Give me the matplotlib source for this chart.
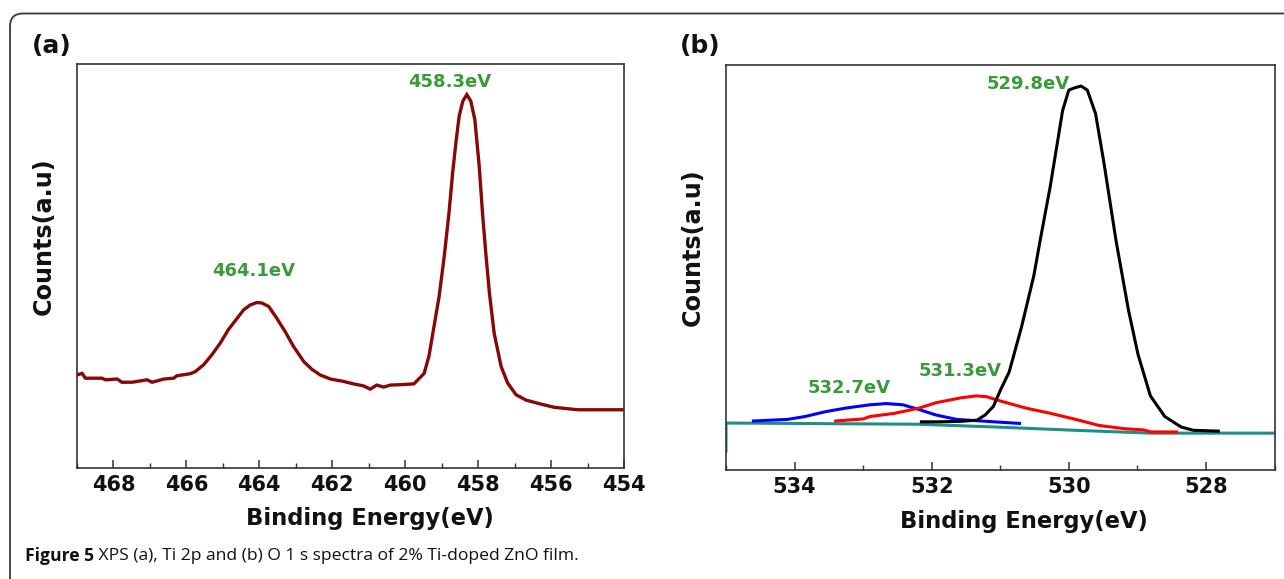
import matplotlib
matplotlib.use("Agg")
import matplotlib.pyplot as plt
from matplotlib.patches import FancyBboxPatch
from matplotlib.ticker import MultipleLocator

# ---------------- data ----------------
# Panel (a): Ti 2p spectrum (binding energy eV, counts a.u.)
ti_energy = [469.00, 468.86, 468.77, 468.31, 468.22, 467.90, 467.77, 467.49, 467.08, 466.94,
             466.62, 466.35, 466.26, 465.90, 465.76, 465.53, 465.30, 465.07, 464.85, 464.61,
             464.43, 464.25, 464.07, 463.93, 463.74, 463.52, 463.29, 463.06, 462.78, 462.56,
             462.33, 462.05, 461.69, 461.42, 461.14, 460.96, 460.78, 460.59, 460.41, 460.12,
             459.76, 459.48, 459.35, 459.21, 459.07, 458.93, 458.80, 458.70, 458.61, 458.52,
             458.42, 458.31, 458.20, 458.09, 457.97, 457.88, 457.79, 457.69, 457.56, 457.37,
             457.19, 456.96, 456.69, 456.28, 455.91, 455.27, 454.64, 454.00]
ti_counts = [23.0, 23.4, 22.2, 22.2, 21.8, 22.0, 21.2, 21.2, 21.8, 21.2,
             22.0, 22.2, 22.8, 23.3, 23.8, 25.5, 28.0, 30.9, 34.2, 37.0,
             39.1, 40.3, 40.9, 40.8, 39.9, 37.0, 33.7, 30.0, 26.3, 24.4,
             23.0, 22.0, 21.4, 20.8, 20.3, 19.5, 20.5, 20.0, 20.5, 20.6,
             20.8, 23.4, 27.6, 35.0, 42.4, 52.3, 63.0, 72.9, 80.4, 87.0,
             90.7, 92.3, 90.7, 86.1, 74.6, 63.0, 53.1, 43.2, 33.3, 25.1,
             21.0, 18.1, 16.8, 15.8, 15.0, 14.4, 14.4, 14.4]

# Panel (b): O 1s fitted components
o_main_energy = [532.15, 531.90, 531.60, 531.34, 531.22, 531.10, 530.99, 530.87, 530.69, 530.51,
                 530.42, 530.27, 530.09, 530.00, 529.91, 529.82, 529.73, 529.61, 529.49, 529.31,
                 529.13, 528.99, 528.81, 528.60, 528.36, 528.18, 527.82]
o_main_counts = [11.9, 11.9, 12.0, 12.3, 13.6, 15.7, 20.0, 24.2, 35.3, 48.0,
                 56.5, 70.1, 88.8, 93.8, 94.4, 94.8, 93.8, 88.0, 76.1, 56.5,
                 39.5, 28.5, 18.3, 13.2, 10.6, 9.8, 9.6]

o_mid_energy = [533.40, 533.00, 532.90, 532.54, 532.18, 531.94, 531.58, 531.35, 531.20, 530.99,
                530.63, 530.27, 529.90, 529.56, 529.19, 528.91, 528.80, 528.43]
o_mid_counts = [12.1, 12.6, 13.2, 14.0, 15.3, 16.6, 17.8, 18.3, 18.1, 17.0,
                15.3, 14.0, 12.5, 11.0, 10.2, 9.9, 9.4, 9.4]

o_high_energy = [534.60, 534.10, 533.85, 533.55, 533.25, 532.90, 532.66, 532.42, 532.18, 531.94,
                 531.64, 531.28, 530.72]
o_high_counts = [12.1, 12.5, 13.2, 14.4, 15.3, 16.1, 16.4, 16.1, 14.9, 13.6,
                 12.5, 12.1, 11.5]

o_bg_energy = [535.00, 535.00, 532.20, 531.05, 529.90, 528.80, 527.00]
o_bg_counts = [4.7, 11.6, 11.3, 10.6, 9.8, 9.1, 9.1]

ti_ticks = [468, 466, 464, 462, 460, 458, 456, 454]
o_ticks = [534, 532, 530, 528]

ti_peaks = [("458.3eV", 458.77, 95.4), ("464.1eV", 464.15, 48.8)]
o_peaks = [("529.8eV", 530.59, 95.2), ("531.3eV", 531.58, 24.5), ("532.7eV", 533.21, 20.3)]

caption_bold = "Figure 5"
caption_rest = " XPS (a), Ti 2p and (b) O 1 s spectra of 2% Ti-doped ZnO film."

# ---------------- figure ----------------
W, H = 1284, 579
fig = plt.figure(figsize=(W / 100, H / 100), dpi=100)
fig.patch.set_facecolor("white")

# rounded border
border = FancyBboxPatch((10, -40), 1320, 579 - 13.5 + 40,
                        boxstyle="round,pad=0,rounding_size=13",
                        transform=None, fill=False, edgecolor="#3a3a3a",
                        linewidth=1.3, clip_on=False)
fig.patches.append(border)

spine_col = "#333333"
green = "#3a9a3a"
lab_font = dict(family="DejaVu Sans", weight="bold")


def px_axes(l, r, t, b):
    return [l / W, (H - b) / H, (r - l) / W, (b - t) / H]


def style(ax, xlim, ticks):
    ax.set_xlim(*xlim)
    ax.set_ylim(0, 100)
    ax.set_yticks([])
    ax.set_xticks(ticks)
    ax.xaxis.set_minor_locator(MultipleLocator(1))
    ax.tick_params(axis="x", which="major", direction="in", length=6, width=1.1,
                   pad=5, labelsize=15, colors=spine_col, labelcolor="#111111")
    ax.tick_params(axis="x", which="minor", direction="in", length=3.5, width=1.0,
                   colors=spine_col)
    for lbl in ax.get_xticklabels():
        lbl.set_fontweight("bold")
        lbl.set_family("DejaVu Sans")
    for s in ax.spines.values():
        s.set_color(spine_col)
        s.set_linewidth(1.2)


# panel (a)
axa = fig.add_axes(px_axes(77, 624, 63.5, 468))
axa.plot(ti_energy, ti_counts, color="#880808", lw=2.4, solid_joinstyle="miter")
style(axa, (469, 454), ti_ticks)
for txt, x, y in ti_peaks:
    axa.text(x, y, txt, color=green, fontsize=13, ha="center", va="center", **lab_font)
axa.set_xlabel("Binding Energy(eV)", fontsize=16.3, color="#111111", **lab_font)
axa.xaxis.set_label_coords(0.5356, -0.124)
axa.xaxis.label.set_va("center")
axa.set_ylabel("Counts(a.u)", fontsize=17.2, color="#111111", **lab_font)
axa.yaxis.set_label_coords(-0.060, 0.574)
axa.yaxis.label.set_va("center")
fig.text(52 / W, 1 - 46 / H, "(a)", fontsize=18, ha="center", va="center",
         color="#111111", **lab_font)

# panel (b)
axb = fig.add_axes(px_axes(726, 1274.5, 65, 470))
axb.plot(o_bg_energy, o_bg_counts, color="#1f8e8a", lw=2.2, zorder=2)
axb.plot(o_high_energy, o_high_counts, color="#0000ff", lw=2.2, zorder=3)
axb.plot(o_mid_energy, o_mid_counts, color="#ff0000", lw=2.2, zorder=3)
axb.plot(o_main_energy, o_main_counts, color="#000000", lw=2.2, zorder=4)
style(axb, (535, 527), o_ticks)
for txt, x, y in o_peaks:
    axb.text(x, y, txt, color=green, fontsize=13, ha="center", va="center", **lab_font)
axb.set_xlabel("Binding Energy(eV)", fontsize=16.3, color="#111111", **lab_font)
axb.xaxis.set_label_coords(0.5433, -0.128)
axb.xaxis.label.set_va("center")
axb.set_ylabel("Counts(a.u)", fontsize=17.2, color="#111111", **lab_font)
axb.yaxis.set_label_coords(-0.060, 0.551)
axb.yaxis.label.set_va("center")
fig.text(700 / W, 1 - 46.5 / H, "(b)", fontsize=18, ha="center", va="center",
         color="#111111", **lab_font)

# caption
cap_y = 1 - 556 / H
t1 = fig.text(25 / W, cap_y, caption_bold, fontsize=12.6, fontweight="bold",
              family="Open Sans", ha="left", va="center", color="#111111")
fig.canvas.draw()
bb = t1.get_window_extent(renderer=fig.canvas.get_renderer())
fig.text(bb.x1 / W, cap_y, caption_rest, fontsize=12.6, family="Open Sans",
         ha="left", va="center", color="#111111")

fig.savefig("out.png", dpi=100, facecolor="white")
